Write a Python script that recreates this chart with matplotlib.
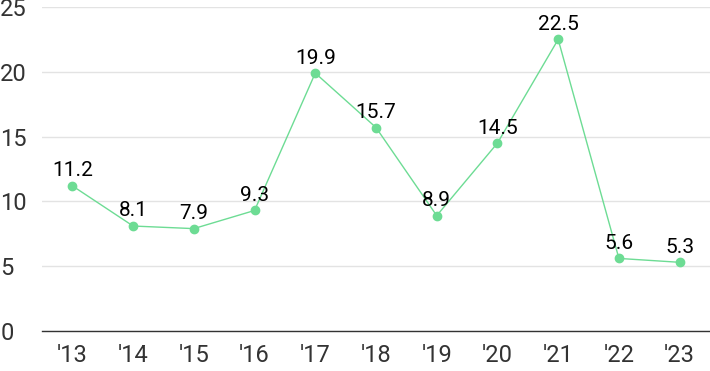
import matplotlib.pyplot as plt

# --- Data ---
years = ["'13", "'14", "'15", "'16", "'17", "'18", "'19", "'20", "'21", "'22", "'23"]
values = [11.2, 8.1, 7.9, 9.3, 19.9, 15.7, 8.9, 14.5, 22.5, 5.6, 5.3]
y_ticks = [0, 5, 10, 15, 20, 25]

plt.rcParams['font.family'] = ['Roboto', 'DejaVu Sans']

fig = plt.figure(figsize=(7.1, 3.71), dpi=100)
ax = fig.add_axes([42 / 710, 1 - 331 / 371, 668 / 710, 324 / 371])

x = list(range(len(years)))
ax.plot(x, values, color='#6ddc94', linewidth=1, marker='o', markersize=6, zorder=3)
for xi, v in zip(x, values):
    ax.annotate(f"{v}", (xi, v), textcoords='offset points', xytext=(0, 4),
                ha='center', va='bottom', fontsize=15, color='black')

ax.set_xlim(-0.5, len(years) - 0.5)
ax.set_ylim(0, 25)
ax.set_yticks(y_ticks)
ax.set_xticks(x)
ax.set_xticklabels(years)

ax.grid(axis='y', color='#e3e3e3', linewidth=1)
ax.set_axisbelow(True)
for side in ['top', 'right', 'left']:
    ax.spines[side].set_visible(False)
ax.spines['bottom'].set_color('#333333')
ax.spines['bottom'].set_linewidth(1)
ax.tick_params(axis='both', length=0, labelsize=17, colors='#333333')
for lab in ax.get_yticklabels():
    lab.set_horizontalalignment('left')
ax.tick_params(axis='y', pad=30)
ax.tick_params(axis='x', pad=9)

fig.savefig('out.png', dpi=100)
